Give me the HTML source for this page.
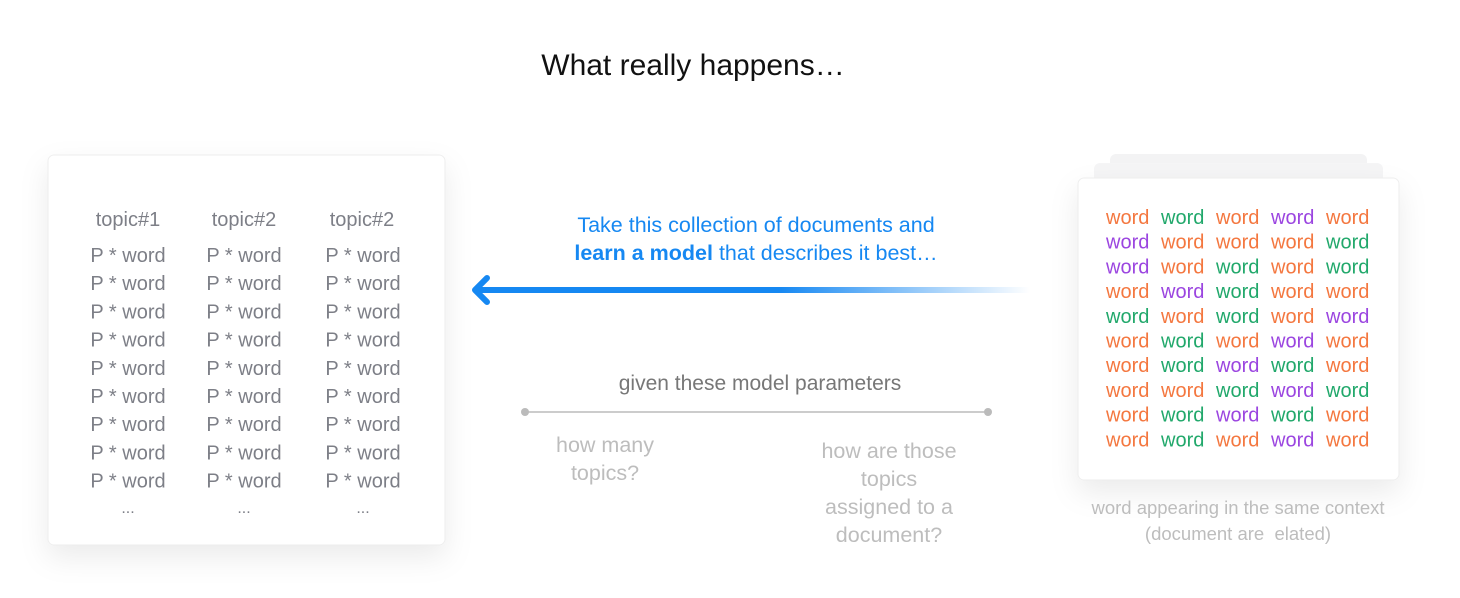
<!DOCTYPE html>
<html><head><meta charset="utf-8"><style>
html,body{margin:0;padding:0;background:#fff;width:1460px;height:598px;overflow:hidden;}
svg{display:block;font-family:"Liberation Sans",sans-serif;}
</style></head><body>
<svg width="1460" height="598" viewBox="0 0 1460 598" xmlns="http://www.w3.org/2000/svg">
<defs>
<linearGradient id="ag" x1="472" y1="0" x2="1030" y2="0" gradientUnits="userSpaceOnUse">
<stop offset="0" stop-color="#1688f2"/><stop offset="0.55" stop-color="#1688f2"/><stop offset="1" stop-color="#1688f2" stop-opacity="0"/>
</linearGradient>
<filter id="sh" x="-20%" y="-20%" width="140%" height="150%"><feDropShadow dx="0" dy="12" stdDeviation="14" flood-color="#000" flood-opacity="0.08"/></filter>
</defs>
<text x="693" y="75" text-anchor="middle" font-size="30" fill="#111">What really happens…</text>

<rect x="48" y="155" width="397" height="390" rx="6" fill="#fff" stroke="#eee" filter="url(#sh)"/>
<g font-size="20" fill="#7d7f87" text-anchor="middle">
<text x="128" y="226">topic#1</text><text x="244" y="226">topic#2</text><text x="362" y="226">topic#2</text>
<g id="r"><text x="128" y="262">P * word</text><text x="244" y="262">P * word</text><text x="363" y="262">P * word</text></g>
<use href="#r" y="28.2"/><use href="#r" y="56.4"/><use href="#r" y="84.6"/><use href="#r" y="112.8"/><use href="#r" y="141"/><use href="#r" y="169.2"/><use href="#r" y="197.4"/><use href="#r" y="225.6"/>
<text x="128" y="513" font-size="16">...</text><text x="244" y="513" font-size="16">...</text><text x="363" y="513" font-size="16">...</text>
</g>

<text x="756" y="232" text-anchor="middle" font-size="21.5" fill="#1688f2">Take this collection of documents and</text>
<text x="756" y="260" text-anchor="middle" font-size="21.5" fill="#1688f2"><tspan font-weight="bold">learn a model</tspan> that describes it best…</text>
<rect x="476" y="287" width="556" height="6" fill="url(#ag)"/>
<polyline points="487,278 475,290 487,302" fill="none" stroke="#1688f2" stroke-width="6" stroke-linecap="round" stroke-linejoin="round"/>

<text x="760" y="390" text-anchor="middle" font-size="21" fill="#777">given these model parameters</text>
<line x1="525" y1="412" x2="988" y2="412" stroke="#bbb" stroke-width="1.5"/>
<circle cx="525" cy="412" r="4" fill="#bbb"/><circle cx="988" cy="412" r="4" fill="#bbb"/>
<g font-size="21.5" fill="#bdbdbd" text-anchor="middle">
<text x="605" y="452">how many</text><text x="605" y="480">topics?</text>
<text x="889" y="458">how are those</text><text x="889" y="486">topics</text><text x="889" y="514">assigned to a</text><text x="889" y="542">document?</text>
</g>

<rect x="1110" y="154" width="257" height="30" rx="6" fill="#f3f3f4"/>
<rect x="1094" y="163" width="289" height="30" rx="6" fill="#f5f5f6"/>
<rect x="1078" y="178" width="321" height="302" rx="6" fill="#fff" stroke="#eee" filter="url(#sh)"/>
<g font-size="20">
<text y="224"><tspan x="1106" fill="#f4773f">word</tspan><tspan x="1161" fill="#21a86b">word</tspan><tspan x="1216" fill="#f4773f">word</tspan><tspan x="1271" fill="#9b45e0">word</tspan><tspan x="1326" fill="#f4773f">word</tspan></text>
<text y="248.7"><tspan x="1106" fill="#9b45e0">word</tspan><tspan x="1161" fill="#f4773f">word</tspan><tspan x="1216" fill="#f4773f">word</tspan><tspan x="1271" fill="#f4773f">word</tspan><tspan x="1326" fill="#21a86b">word</tspan></text>
<text y="273.4"><tspan x="1106" fill="#9b45e0">word</tspan><tspan x="1161" fill="#f4773f">word</tspan><tspan x="1216" fill="#21a86b">word</tspan><tspan x="1271" fill="#f4773f">word</tspan><tspan x="1326" fill="#21a86b">word</tspan></text>
<text y="298.1"><tspan x="1106" fill="#f4773f">word</tspan><tspan x="1161" fill="#9b45e0">word</tspan><tspan x="1216" fill="#21a86b">word</tspan><tspan x="1271" fill="#f4773f">word</tspan><tspan x="1326" fill="#f4773f">word</tspan></text>
<text y="322.8"><tspan x="1106" fill="#21a86b">word</tspan><tspan x="1161" fill="#f4773f">word</tspan><tspan x="1216" fill="#21a86b">word</tspan><tspan x="1271" fill="#f4773f">word</tspan><tspan x="1326" fill="#9b45e0">word</tspan></text>
<text y="347.5"><tspan x="1106" fill="#f4773f">word</tspan><tspan x="1161" fill="#21a86b">word</tspan><tspan x="1216" fill="#f4773f">word</tspan><tspan x="1271" fill="#9b45e0">word</tspan><tspan x="1326" fill="#f4773f">word</tspan></text>
<text y="372.2"><tspan x="1106" fill="#f4773f">word</tspan><tspan x="1161" fill="#21a86b">word</tspan><tspan x="1216" fill="#9b45e0">word</tspan><tspan x="1271" fill="#21a86b">word</tspan><tspan x="1326" fill="#f4773f">word</tspan></text>
<text y="396.9"><tspan x="1106" fill="#f4773f">word</tspan><tspan x="1161" fill="#f4773f">word</tspan><tspan x="1216" fill="#21a86b">word</tspan><tspan x="1271" fill="#9b45e0">word</tspan><tspan x="1326" fill="#21a86b">word</tspan></text>
<text y="421.6"><tspan x="1106" fill="#f4773f">word</tspan><tspan x="1161" fill="#21a86b">word</tspan><tspan x="1216" fill="#9b45e0">word</tspan><tspan x="1271" fill="#21a86b">word</tspan><tspan x="1326" fill="#f4773f">word</tspan></text>
<text y="446.3"><tspan x="1106" fill="#f4773f">word</tspan><tspan x="1161" fill="#21a86b">word</tspan><tspan x="1216" fill="#f4773f">word</tspan><tspan x="1271" fill="#9b45e0">word</tspan><tspan x="1326" fill="#f4773f">word</tspan></text>
</g>
<text x="1238" y="514" text-anchor="middle" font-size="18.5" fill="#bdbdbd">word appearing in the same context</text>
<text x="1238" y="540" text-anchor="middle" font-size="18.5" fill="#bdbdbd">(document are&#160; elated)</text>
</svg>
</body></html>
